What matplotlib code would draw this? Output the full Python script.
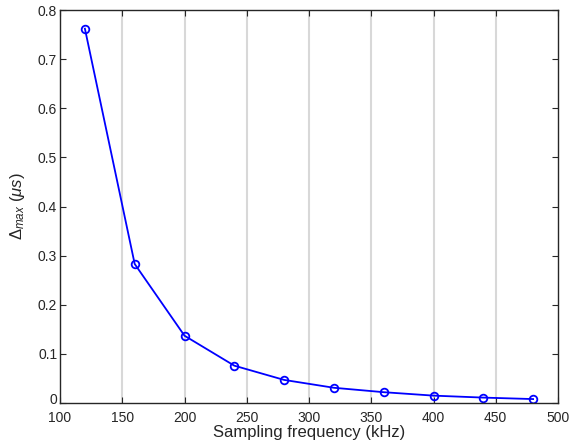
import matplotlib
matplotlib.use("Agg")
import matplotlib.pyplot as plt
import matplotlib.transforms as mtransforms

plt.rcParams['font.family'] = ['Liberation Sans', 'DejaVu Sans']
plt.rcParams['mathtext.fontset'] = 'custom'
plt.rcParams['mathtext.rm'] = 'Liberation Sans'
plt.rcParams['mathtext.it'] = 'Liberation Sans:italic'

# sampling frequency (kHz) and max error (us)
freq = [120, 160, 200, 240, 280, 320, 360, 400, 440, 480]
delta_max = [0.762, 0.283, 0.137, 0.076, 0.047, 0.031, 0.022, 0.015, 0.011, 0.008]

xticks = [100, 150, 200, 250, 300, 350, 400, 450, 500]
yticks = [0, 0.1, 0.2, 0.3, 0.4, 0.5, 0.6, 0.7, 0.8]

fig = plt.figure(figsize=(5.83, 4.41), dpi=100)
ax = fig.add_axes([60 / 583, 38 / 441, 498 / 583, 393 / 441])

# vertical grid only
for x in xticks[1:-1]:
    ax.axvline(x, color='#d8d8d8', lw=1.5, zorder=0)

ax.plot(freq, delta_max, color='#0000ff', lw=1.3, marker='o', markersize=5.5,
        markerfacecolor='none', markeredgecolor='#0000ff', markeredgewidth=1.3)

ax.set_xlim(100, 500)
ax.set_ylim(0, 0.8)
ax.set_xticks(xticks)
ax.set_yticks(yticks)
ax.set_yticklabels(['0', '0.1', '0.2', '0.3', '0.4', '0.5', '0.6', '0.7', '0.8'])
ax.tick_params(direction='in', top=True, right=True, labelsize=10, length=4,
               width=0.8, colors='#262626')
ax.tick_params(axis='x', pad=6)
ax.tick_params(axis='y', pad=2)
for s in ax.spines.values():
    s.set_linewidth(1.0)
    s.set_color('#262626')

# the "0" label sits a bit higher so it clears "100"
lbl0 = ax.get_yticklabels()[0]
lbl0.set_transform(lbl0.get_transform() +
                   mtransforms.ScaledTranslation(0, 3 / 72, fig.dpi_scale_trans))

ax.set_xlabel('Sampling frequency (kHz)', fontsize=12, labelpad=0, color='#262626')
ax.set_ylabel(r'$\mathit{\Delta}_{\mathit{max}}$ $(\mu s)$', fontsize=12, labelpad=8,
              color='#262626')

fig.savefig('out.png', dpi=100)
